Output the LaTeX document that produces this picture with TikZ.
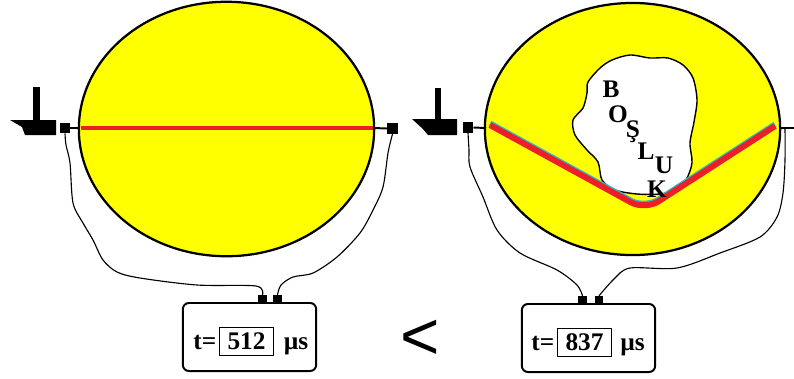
\documentclass[tikz,border=0pt]{standalone}
\usepackage{fontspec}
\setmainfont{Liberation Serif}
\newfontfamily\zeichenfont{Liberation Sans}

\definecolor{kreisgelb}{RGB}{255,255,0}
\definecolor{strahlrot}{RGB}{236,30,40}
\definecolor{saum}{RGB}{40,190,200}

\begin{document}
\begin{tikzpicture}[x=0.025cm,y=-0.025cm,line join=round,
  kreis/.style={draw=black,line width=1.6pt,fill=kreisgelb},
  quadrat/.style={fill=black,inner sep=0pt,minimum size=0.26cm},
  stecker/.style={fill=black,inner sep=0pt,minimum size=0.22cm},
  kabel/.style={line width=0.8pt},
  anzeige/.style={draw,line width=1.4pt,rounded corners=0.15cm,minimum width=3.33cm,minimum height=1.7cm},
  wert/.style={draw,line width=0.8pt,inner sep=0pt,minimum width=1.33cm,minimum height=0.68cm,font=\fontsize{18}{20}\selectfont\bfseries},
  txt/.style={inner sep=0pt,font=\fontsize{18}{20}\selectfont\bfseries},
  buchstabe/.style={inner sep=0pt,anchor=base,font=\fontsize{18}{18}\selectfont\bfseries}]

\useasboundingbox (0,0) rectangle (794,378);

% Prüfkörper links
\draw[kreis] (226.5,129) ellipse [x radius=3.69cm, y radius=3.18cm];
\draw[strahlrot,line width=3.5pt] (81,128)--(373,128);

% Prüfkörper rechts mit Hohlraum
\draw[kreis] (632.5,129) ellipse [x radius=3.69cm, y radius=3.15cm];
\draw[fill=white,line width=1pt] plot[smooth cycle,tension=0.5] coordinates {
  (588,82) (600,68) (612,60) (630,55) (650,58) (668,58) (683,65) (693,78)
  (697,100) (694,122) (690,143) (692,163) (686,180) (676,190) (660,194)
  (637,194) (615,190) (602,180) (598,162) (587,150) (575,135) (573,120)
  (583,108) (587,93)};
\draw[saum,line width=4.3pt,rounded corners=0.4cm,shift={(0,-1.5)}] (490,125)--(645,210)--(775,126);
\draw[strahlrot,line width=4.3pt,rounded corners=0.4cm] (490,125)--(645,210)--(775,126);

\node[buchstabe] at (611,97) {B};
\node[buchstabe] at (618,122) {O};
\node[buchstabe] at (633,137) {Ş};
\node[buchstabe] at (646,159) {L};
\node[buchstabe] at (664,173) {U};
\node[buchstabe] at (657,197) {K};

% Prüfköpfe
\fill (33,87) rectangle (40,121);
\fill (10,120)--(56,120)--(56,135)--(25,135)--(22,127)--cycle;
\fill (435,88) rectangle (441,120);
\fill (412,119)--(457,119)--(457,135)--(428,135)--(423,129)--cycle;

\node[quadrat] (lq1) at (65,128) {};
\node[quadrat] (lq2) at (392.5,128.5) {};
\node[quadrat] (rq1) at (468,127.5) {};
\coordinate (rq2) at (785,128);

\draw[line width=1.4pt] (lq1.east)--(80,128);
\draw[line width=1.4pt] (374,128)--(lq2.west);
\draw[line width=1.4pt] (rq1.east)--(486,128);
\draw[line width=1.4pt] (780,128)--(794,128);

% Anzeigegeräte
\node[anzeige] (a1) at (249.5,337) {};
\node[anzeige] (a2) at (588.5,338) {};

\node[stecker] (lc1) at (262.5,299.5) {};
\node[stecker] (lc2) at (277.5,299.5) {};
\node[stecker] (rc1) at (582.5,300.5) {};
\node[stecker] (rc2) at (599,300.5) {};

% Kabel
\draw[kabel] plot[smooth,tension=0.5] coordinates {(lq1.south) (66,145) (70,163) (73,203)
  (83,223) (93,240) (103,260) (117,272) (140,278) (197,285) (256,286) (lc1.north)};
\draw[kabel] plot[smooth,tension=0.5] coordinates {(lq2.south) (388,153) (383,187) (373,210)
  (360,233) (337,257) (313,273) (293,277) (281,285) (lc2.north)};
\draw[kabel] plot[smooth,tension=0.5] coordinates {(rq1.south) (469,150) (470,167) (483,197)
  (497,230) (520,253) (557,270) (577,285) (rc1.north)};
\draw[kabel] plot[smooth,tension=0.5] coordinates {(rq2) (785,160) (783,193) (777,217)
  (760,237) (720,253) (677,268) (630,268) (614,279) (rc2.north)};

% Laufzeiten
\node[wert] (w1) at (246.5,341.5) {512};
\node[txt,anchor=base east] (t1) at ([xshift=-2pt]w1.base west) {t=};
\node[txt,anchor=base west] (e1) at ([xshift=7pt]w1.base east) {µs};

\node[wert] (w2) at (584.5,342.5) {837};
\node[txt,anchor=base east] (t2) at ([xshift=-2pt]w2.base west) {t=};
\node[txt,anchor=base west] (e2) at ([xshift=6pt]w2.base east) {µs};

% Vergleich
\node[inner sep=0pt,font=\zeichenfont\fontsize{48}{50}\selectfont] (vgl) at (420,340) {<};

\end{tikzpicture}
\end{document}
